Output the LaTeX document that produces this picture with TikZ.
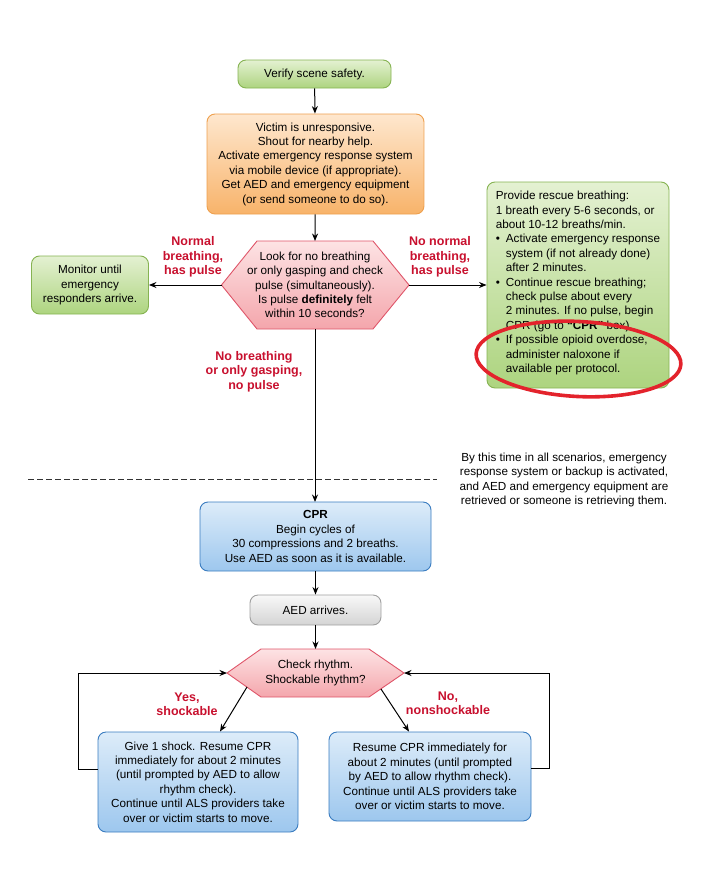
\documentclass[tikz,border=0pt]{standalone}
\usepackage{fontspec}
\setmainfont{Liberation Sans}
\usetikzlibrary{arrows.meta,calc}
\definecolor{gTop}{HTML}{E4F1D2}
\definecolor{gBot}{HTML}{ADD47F}
\definecolor{gLine}{HTML}{86B352}
\definecolor{oTop}{HTML}{FEE7CE}
\definecolor{oBot}{HTML}{F8B36A}
\definecolor{oLine}{HTML}{EEA04E}
\definecolor{pTop}{HTML}{FDE3E4}
\definecolor{pBot}{HTML}{F4A6AC}
\definecolor{pLine}{HTML}{DF5569}
\definecolor{bTop}{HTML}{DDECF9}
\definecolor{bBot}{HTML}{9DC7EE}
\definecolor{bLine}{HTML}{3A7CC0}
\definecolor{yTop}{HTML}{F8F8F8}
\definecolor{yBot}{HTML}{D4D4D4}
\definecolor{yLine}{HTML}{A0A0A0}
\definecolor{lblred}{HTML}{C8102E}
\definecolor{ringred}{HTML}{E3232C}
\newcommand\bul{\makebox[10pt][l]{\textbullet}}
\newcommand\ind{\hspace*{10pt}}
\begin{document}
\begin{tikzpicture}[x=1pt,y=-1pt,
  txt/.style={font=\fontsize{11.7}{14.4}\selectfont},
  box/.style={txt, draw, rounded corners=8pt, line width=0.9pt, align=center, inner sep=0pt},
  greenbox/.style={box, draw=gLine, top color=gTop, bottom color=gBot},
  orangebox/.style={box, draw=oLine, top color=oTop, bottom color=oBot},
  bluebox/.style={box, draw=bLine, top color=bTop, bottom color=bBot},
  graybox/.style={box, draw=yLine, top color=yTop, bottom color=yBot},
  hexa/.style={draw=pLine, line width=0.9pt, top color=pTop, bottom color=pBot},
  lbl/.style={font=\fontsize{12.5}{14.4}\selectfont\bfseries, text=lblred, align=center, inner sep=0pt},
  arr/.style={line width=1pt, -{Stealth[length=7.5pt,width=6pt]}},
  dashline/.style={line width=1pt, draw=black!80, dash pattern=on 5.5pt off 3.5pt}
]
\useasboundingbox (0,0) rectangle (709,870);

% top boxes
\node[greenbox, minimum width=153pt, minimum height=28pt] (verify) at (314.5,74) {Verify scene safety.};
\node[orangebox, minimum width=217pt, minimum height=100pt] (victim) at (315.5,164)
  {Victim is unresponsive.\\Shout for nearby help.\\Activate emergency response system\\via mobile device (if appropriate).\\Get AED and emergency equipment\\(or send someone to do so).};

% hexagon 1
\coordinate (h1w) at (221.5,285);
\coordinate (h1e) at (409,285);
\coordinate (h1n) at (315,241);
\coordinate (h1s) at (315,329);
\path[hexa] (h1w) -- (257,241) -- (373,241) -- (h1e) -- (373,329) -- (257,329) -- cycle;
\node[txt, align=center, inner sep=0pt] (look) at (315,285)
  {Look for no breathing\\or only gasping and check\\pulse (simultaneously).\\Is pulse \textbf{definitely} felt\\within 10 seconds?};

\node[greenbox, minimum width=117pt, minimum height=58pt] (monitor) at (90,285)
  {Monitor until\\emergency\\responders arrive.};

\node[greenbox, minimum width=182pt, minimum height=206pt, align=left] (rescue) at (578,285) {};
\node[txt, align=left, inner sep=0pt] (rescuetxt) at (578,283)
  {Provide rescue breathing:\\1 breath every 5-6 seconds, or\\about 10-12 breaths/min.\\
   \bul Activate emergency response\\\ind system (if not already done)\\\ind after 2 minutes.\\
   \bul Continue rescue breathing;\\\ind check pulse about every\\\ind 2 minutes. If no pulse, begin\\\ind CPR (go to \textbf{“CPR”} box).\\
   \bul If possible opioid overdose,\\\ind administer naloxone if\\\ind available per protocol.};

\draw[ringred, line width=3.6pt, rotate around={-3:(578.5,359)}] (578.5,359) ellipse [x radius=102.5, y radius=37.5];

% labels
\node[lbl] (l1) at (193,257) {Normal\\breathing,\\has pulse};
\node[lbl] (l2) at (440,257) {No normal\\breathing,\\has pulse};
\node[lbl] (l3) at (254,371.5) {No breathing\\or only gasping,\\no pulse};

% connectors top
\draw[arr] (verify) -- (victim);
\draw[arr] (victim) -- (h1n);
\draw[arr] (h1w) -- (monitor);
\draw[arr] (h1e) -- (rescue);
\draw[arr] (h1s) -- (315,502);

% dashed line and note
\draw[dashline] (28,479) -- (437,479);
\node[txt, align=center, inner sep=0pt] (note) at (564,480)
  {By this time in all scenarios, emergency\\response system or backup is activated,\\and AED and emergency equipment are\\retrieved or someone is retrieving them.};

% CPR
\node[bluebox, minimum width=231pt, minimum height=69pt] (cpr) at (315.5,536.5)
  {\textbf{CPR}\\Begin cycles of\\30 compressions and 2 breaths.\\Use AED as soon as it is available.};
\node[graybox, minimum width=131pt, minimum height=30pt] (aed) at (315.5,610) {AED arrives.};

% hexagon 2
\coordinate (h2w) at (227,673);
\coordinate (h2e) at (404,673);
\coordinate (h2n) at (315.5,649);
\coordinate (h2a) at (247,687);
\coordinate (h2b) at (381,689);
\path[hexa] (h2w) -- (261,649) -- (369,649) -- (h2e) -- (369,697) -- (261,697) -- cycle;
\node[txt, align=center, inner sep=0pt] (check) at (315.5,673) {Check rhythm.\\Shockable rhythm?};

\node[bluebox, minimum width=200pt, minimum height=100pt] (shock) at (198,782)
  {Give 1 shock. Resume CPR\\immediately for about 2 minutes\\(until prompted by AED to allow\\rhythm check).\\Continue until ALS providers take\\over or victim starts to move.};
\node[bluebox, minimum width=202pt, minimum height=89pt] (noshock) at (430,776.5)
  {Resume CPR immediately for\\about 2 minutes (until prompted\\by AED to allow rhythm check).\\Continue until ALS providers take\\over or victim starts to move.};

\node[lbl] (l4) at (187,704) {Yes,\\shockable};
\node[lbl] (l5) at (448,703.5) {No,\\nonshockable};

\draw[arr] (cpr) -- (aed);
\draw[arr] (aed) -- (h2n);
\draw[arr] (h2a) -- ($(shock.north)+(22,0)$);
\draw[arr] (h2b) -- ($(noshock.north)+(-21,0)$);
\draw[arr] ($(shock.west)+(0,-13)$) -- ++(-19,0) |- (h2w);
\draw[arr] ($(noshock.east)+(0,-8.5)$) -- ++(18,0) |- (h2e);
\end{tikzpicture}
\end{document}
